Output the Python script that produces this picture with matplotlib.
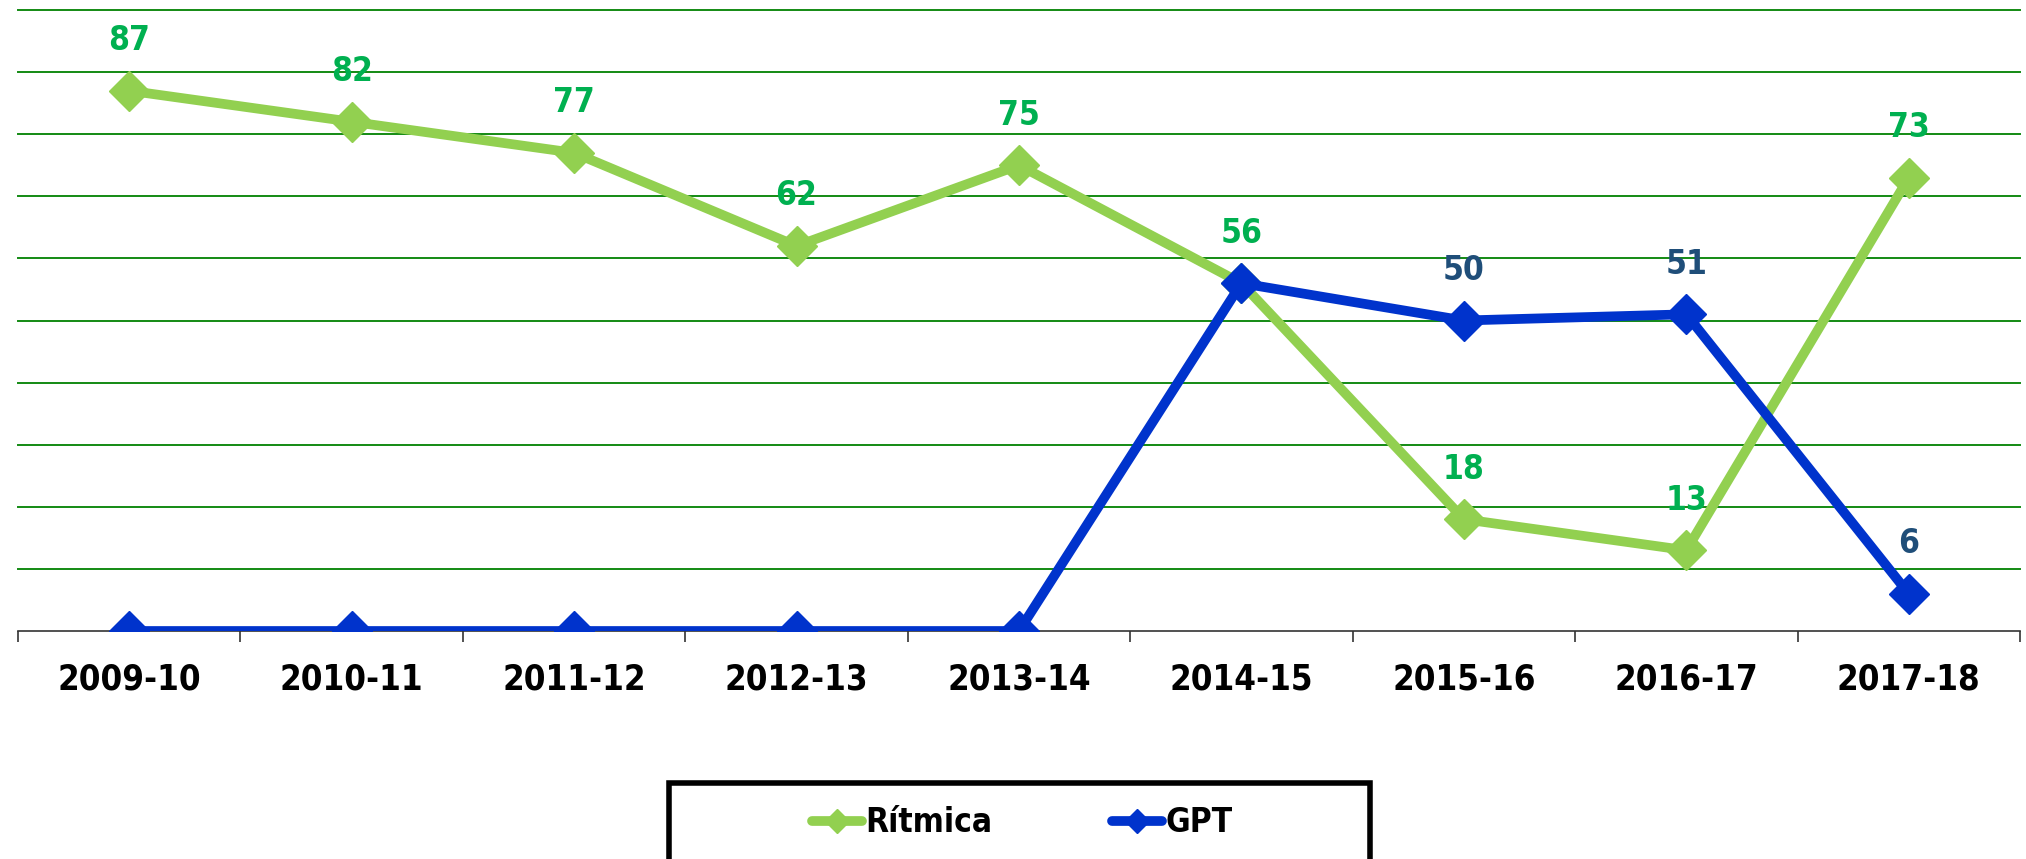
import matplotlib
matplotlib.use("Agg")
import matplotlib.pyplot as plt
from matplotlib.lines import Line2D
from matplotlib.patches import Rectangle

seasons = ["2009-10", "2010-11", "2011-12", "2012-13", "2013-14",
           "2014-15", "2015-16", "2016-17", "2017-18"]
ritmica = [87, 82, 77, 62, 75, 56, 18, 13, 73]
gpt = [0, 0, 0, 0, 0, 56, 50, 51, 6]
gpt_labels = [None, None, None, None, None, None, "50", "51", "6"]

green_line = "#92D050"
green_text = "#00B050"
blue_line = "#0033CC"
blue_text = "#1F4E79"

plt.rcParams["font.family"] = ["DejaVu Sans"]
plt.rcParams["font.weight"] = "bold"
plt.rcParams["font.stretch"] = "condensed"

W, H = 2026, 859
fig = plt.figure(figsize=(W / 100, H / 100), dpi=100)
ax = fig.add_axes([18 / W, 1 - 631 / H, (2020 - 18) / W, (631 - 10) / H])

x = list(range(len(seasons)))
ax.plot(x, ritmica, color=green_line, lw=7, marker="D", markersize=20,
        solid_joinstyle="miter", zorder=3)
ax.plot(x, gpt, color=blue_line, lw=7, marker="D", markersize=20,
        solid_joinstyle="miter", zorder=4)

for xi, v in zip(x, ritmica):
    ax.annotate(str(v), (xi, v), xytext=(0, 36), textcoords="offset points",
                ha="center", va="center", color=green_text, fontsize=24,
                fontweight="bold", zorder=6)
for xi, v, lab in zip(x, gpt, gpt_labels):
    if lab:
        ax.annotate(lab, (xi, v), xytext=(0, 36), textcoords="offset points",
                    ha="center", va="center", color=blue_text, fontsize=24,
                    fontweight="bold", zorder=6)

ax.set_xlim(-0.5, len(seasons) - 0.5)
ax.set_ylim(0, 100)
ax.set_yticks(range(10, 101, 10))
ax.yaxis.grid(True, color="#138A13", lw=1.4)
for gl in ax.get_ygridlines():
    gl.set_clip_on(False)
ax.set_axisbelow(True)
ax.tick_params(axis="y", left=False, labelleft=False)

ax.set_xticks(x)
ax.set_xticklabels(seasons, fontsize=25, fontweight="bold")
ax.tick_params(axis="x", which="major", length=0, pad=23)
ax.set_xticks([i - 0.5 for i in range(len(seasons) + 1)], minor=True)
ax.tick_params(axis="x", which="minor", length=8, width=1.2, color="#333333",
               direction="out")

for s in ["left", "right", "top"]:
    ax.spines[s].set_visible(False)
ax.spines["bottom"].set_color("#333333")
ax.spines["bottom"].set_linewidth(1.2)

# legend frame (runs off the bottom of the figure like the reference)
fig.patches.append(Rectangle((669 / W, -0.05), (1370 - 669) / W, 0.05 + (1 - 783 / H),
                             transform=fig.transFigure, fill=False,
                             edgecolor="black", lw=4))
handles = [
    Line2D([], [], color=green_line, lw=7, marker="D", markersize=12,
           solid_capstyle="round"),
    Line2D([], [], color=blue_line, lw=7, marker="D", markersize=12,
           solid_capstyle="round"),
]
fig.legend(handles, ["Rítmica", "GPT"], loc="center left",
           bbox_to_anchor=(812 / W, 1 - 823 / H), ncol=2, frameon=False,
           fontsize=24, handlelength=1.5, handletextpad=0.1,
           columnspacing=3.6, borderaxespad=0, borderpad=0)

fig.savefig("out.png", dpi=100)
